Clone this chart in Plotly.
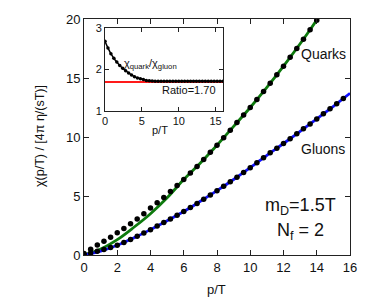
import plotly.graph_objects as go

# ---- data ----
p_line = [0, 1, 2, 3, 4, 5, 6, 7, 8, 9, 10, 11, 12, 13, 14, 15]
quark_line = [0, 0.5, 1.3, 2.35, 3.5, 4.85, 6.4, 7.8, 9.3, 10.9, 12.5, 14.2, 16.0, 17.9, 19.9, 21.9]
p_gline = [0, 1, 2, 3, 4, 5, 6, 7, 8, 9, 10, 11, 12, 13, 14, 15, 16]
gluon_line = [0, 0.33, 0.82, 1.45, 2.15, 2.9, 3.68, 4.55, 5.45, 6.4, 7.4, 8.45, 9.45, 10.48, 11.53, 12.6, 13.7]

p_qdots = [0.0, 0.4, 0.8, 1.2, 1.6, 2.0, 2.4, 2.8, 3.2, 3.6, 4.0, 4.4, 4.8, 5.2, 5.6, 6.0,
           6.4, 6.8, 7.2, 7.6, 8.0, 8.4, 8.8, 9.2, 9.6, 10.0, 10.4, 10.8, 11.2, 11.6, 12.0,
           12.4, 12.8, 13.2, 13.6, 14.0]
quark_dots = [0.12, 0.48, 0.84, 1.16, 1.50, 1.88, 2.24, 2.64, 3.05, 3.50, 3.98, 4.42, 4.88, 5.38, 5.90, 6.40,
              6.95, 7.5, 8.1, 8.7, 9.3, 9.93, 10.57, 11.22, 11.86, 12.5, 13.18, 13.86, 14.55, 15.27, 16.0,
              16.75, 17.5, 18.28, 19.08, 19.9]

p_gdots = [0.0, 0.4, 0.8, 1.2, 1.6, 2.0, 2.4, 2.8, 3.2, 3.6, 4.0, 4.4, 4.8, 5.2, 5.6, 6.0,
           6.4, 6.8, 7.2, 7.6, 8.0, 8.4, 8.8, 9.2, 9.6, 10.0, 10.4, 10.8, 11.2, 11.6, 12.0,
           12.4, 12.8, 13.2, 13.6, 14.0, 14.4, 14.8, 15.2, 15.6]
gluon_dots = [0.05, 0.17, 0.31, 0.46, 0.63, 0.83, 1.06, 1.31, 1.58, 1.86, 2.15, 2.45, 2.75, 3.05, 3.36, 3.68,
              4.02, 4.37, 4.73, 5.09, 5.45, 5.83, 6.21, 6.59, 7.0, 7.4, 7.82, 8.24, 8.66, 9.05, 9.45,
              9.86, 10.27, 10.69, 11.11, 11.53, 11.96, 12.39, 12.82, 13.26]

p_ratio = [0.0, 0.4, 0.8, 1.2, 1.6, 2.0, 2.4, 2.8, 3.2, 3.6, 4.0, 4.4, 4.8, 5.2, 5.6, 6.0,
           6.4, 6.8, 7.2, 7.6, 8.0, 8.4, 8.8, 9.2, 9.6, 10.0, 10.4, 10.8, 11.2, 11.6, 12.0,
           12.4, 12.8, 13.2, 13.6, 14.0, 14.4, 14.8, 15.2, 15.6, 16.0]
ratio_vals = [2.68, 2.52, 2.38, 2.27, 2.18, 2.10, 2.03, 1.97, 1.92, 1.87, 1.83, 1.80, 1.78, 1.76, 1.74, 1.73,
              1.725, 1.722, 1.72, 1.72, 1.72, 1.72, 1.72, 1.72, 1.72, 1.72, 1.72, 1.72, 1.72, 1.72, 1.72,
              1.72, 1.72, 1.72, 1.72, 1.72, 1.72, 1.72, 1.72, 1.72, 1.72]
ratio_const = 1.70
ratio_x = [0, 16]

main_xticks = [0, 2, 4, 6, 8, 10, 12, 14, 16]
main_yticks = [0, 5, 10, 15, 20]
inset_xticks = [0, 5, 10, 15]
inset_yticks = [1, 2, 3]

FONT = "Liberation Sans, Arial, sans-serif"
GREEN = "#0d7a0d"
BLUE = "#1010ff"
RED = "#ff1a1a"
AX = "#222222"

fig = go.Figure()

# main lines
fig.add_trace(go.Scatter(x=p_line, y=quark_line, mode="lines", line=dict(color=GREEN, width=2.8, shape="spline"),
                         showlegend=False))
fig.add_trace(go.Scatter(x=p_gline, y=gluon_line, mode="lines", line=dict(color=BLUE, width=2.8, shape="spline"),
                         showlegend=False))
fig.add_trace(go.Scatter(x=p_qdots, y=quark_dots, mode="markers", marker=dict(color="black", size=5.5),
                         showlegend=False))
fig.add_trace(go.Scatter(x=p_gdots, y=gluon_dots, mode="markers", marker=dict(color="black", size=5.5),
                         showlegend=False))

# inset
fig.add_trace(go.Scatter(x=ratio_x, y=[ratio_const, ratio_const], mode="lines", line=dict(color=RED, width=2),
                         xaxis="x2", yaxis="y2", showlegend=False))
fig.add_trace(go.Scatter(x=p_ratio, y=ratio_vals, mode="lines+markers", line=dict(color="black", width=1.5, shape="spline"),
                         marker=dict(color="black", size=3.5), xaxis="x2", yaxis="y2", showlegend=False))

axis_common = dict(showline=True, linecolor=AX, linewidth=1, mirror="ticks", ticks="inside",
                   tickcolor=AX, ticklen=5, showgrid=False, zeroline=False,
                   tickfont=dict(family=FONT, size=13, color="#111"))

ix0 = (105 - 84) / 266
ix1 = (223 - 84) / 266
iy0 = (255 - 110) / 238
iy1 = (255 - 26) / 238

fig.update_layout(
    width=370, height=300,
    margin=dict(l=84, r=20, t=17, b=45),
    paper_bgcolor="white", plot_bgcolor="white",
    xaxis=dict(range=[0, 16], tickvals=main_xticks, domain=[0, 1], **axis_common),
    yaxis=dict(range=[0, 20], tickvals=main_yticks, domain=[0, 1], **axis_common),
    xaxis2=dict(range=[0, 16], tickvals=inset_xticks, domain=[ix0, ix1], anchor="y2",
                **{**axis_common, "tickfont": dict(family=FONT, size=11, color="#111"), "ticklen": 4}),
    yaxis2=dict(range=[1, 3], tickvals=inset_yticks, domain=[iy0, iy1], anchor="x2",
                **{**axis_common, "tickfont": dict(family=FONT, size=11, color="#111"), "ticklen": 4}),
)

fig.add_shape(type="rect", xref="paper", yref="paper", x0=ix0, x1=ix1, y0=iy0, y1=iy1,
              fillcolor="white", line=dict(width=0), layer="below")


def px_x(px):
    return (px - 84) / 266


def px_y(py):
    return (255 - py) / 238


ann = [
    dict(text="Quarks", x=px_x(299), y=px_y(52), xanchor="left", yanchor="middle", size=14),
    dict(text="Gluons", x=px_x(299), y=px_y(148), xanchor="left", yanchor="middle", size=14),
    dict(text="m<sub>D</sub>=1.5T", x=px_x(300), y=px_y(206), xanchor="center", yanchor="middle", size=18),
    dict(text="N<sub>f</sub> = 2", x=px_x(300), y=px_y(231), xanchor="center", yanchor="middle", size=18),
    dict(text="χ<sub>quark</sub>/χ<sub>gluon</sub>", x=px_x(122), y=px_y(62), xanchor="left", yanchor="middle", size=11),
    dict(text="Ratio=1.70", x=px_x(218), y=px_y(89), xanchor="right", yanchor="middle", size=11),
    dict(text="p/T", x=px_x(160), y=px_y(129), xanchor="center", yanchor="middle", size=11),
    dict(text="p/T", x=px_x(216), y=px_y(290), xanchor="center", yanchor="middle", size=13),
]
for a in ann:
    fig.add_annotation(text=a["text"], x=a["x"], y=a["y"], xref="paper", yref="paper",
                       xanchor=a["xanchor"], yanchor=a["yanchor"], showarrow=False,
                       font=dict(family=FONT, size=a["size"], color="#111"))

fig.add_annotation(text="χ(p/T) / [4π η/(sT)]", x=px_x(40), y=px_y(135), xref="paper", yref="paper",
                   xanchor="center", yanchor="middle", textangle=-90, showarrow=False,
                   font=dict(family=FONT, size=12.5, color="#111"))

fig.write_html("out.html", config={"displayModeBar": False},
               post_script="document.body.style.margin='0';document.body.style.overflow='hidden';")
